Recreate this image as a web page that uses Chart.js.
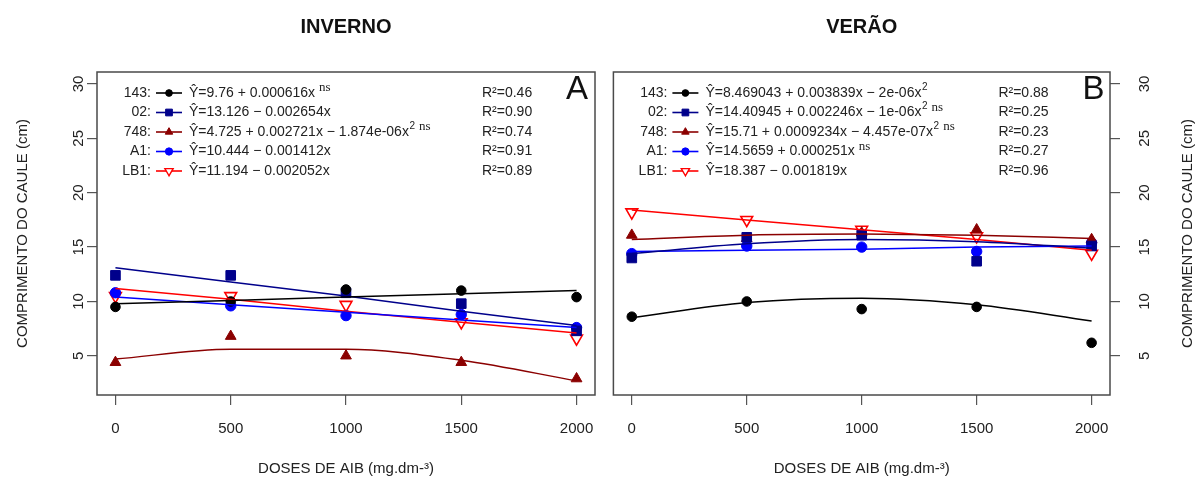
<!DOCTYPE html>
<html>
<head>
    <meta charset="utf-8">
    <script src="https://cdn.jsdelivr.net/npm/chart.js@4.4.1/dist/chart.umd.min.js"></script>
    <style>
        body { margin: 0; background: #fff; }
        #wrap { position: relative; width: 1198px; height: 481px; }
        canvas { position: absolute; top: 0; }
    </style>
</head>
<body>
<div id="wrap">
    <canvas id="inverno" width="605" height="481" style="left:0"></canvas>
    <canvas id="verao" width="593" height="481" style="left:605px"></canvas>
</div>
<script>
    // doses de AIB (x) and axis ticks
    var doses = [0, 500, 1000, 1500, 2000];
    var xTicks = [0, 500, 1000, 1500, 2000];
    var yTicks = [5, 10, 15, 20, 25, 30];
    var genotypes = ['143', '02', '748', 'A1', 'LB1'];

    // INVERNO - observed
    var inv143 = [9.5, 10.0, 11.1, 11.0, 10.4];
    var inv02 = [12.4, 12.4, 10.8, 9.8, 7.3];
    var inv748 = [4.4, 6.8, 5.0, 4.4, 2.9];
    var invA1 = [10.8, 9.6, 8.7, 8.8, 7.6];
    var invLB1 = [10.5, 10.5, 9.7, 8.1, 6.6];
    // INVERNO - fitted curves
    var invFit143 = [9.8, 10.1, 10.4, 10.7, 11.0];
    var invFit02 = [13.1, 11.8, 10.5, 9.1, 7.8];
    var invFit748 = [4.7, 5.6, 5.6, 4.6, 2.7];
    var invFitA1 = [10.4, 9.7, 9.0, 8.3, 7.6];
    var invFitLB1 = [11.2, 10.2, 9.1, 8.1, 7.1];
    var invEq = [
        ['Ŷ=9.76 + 0.000616x', '', 'ns'],
        ['Ŷ=13.126 − 0.002654x', '', ''],
        ['Ŷ=4.725 + 0.002721x − 1.874e-06x', '2', 'ns'],
        ['Ŷ=10.444 − 0.001412x', '', ''],
        ['Ŷ=11.194 − 0.002052x', '', '']
    ];
    var invR2 = ['0.46', '0.90', '0.74', '0.91', '0.89'];

    // VERAO - observed
    var ver143 = [8.6, 10.0, 9.3, 9.5, 6.2];
    var ver02 = [14.0, 15.9, 16.1, 13.7, 15.1];
    var ver748 = [16.1, 15.8, 16.3, 16.6, 15.7];
    var verA1 = [14.4, 15.1, 15.0, 14.6, 15.4];
    var verLB1 = [18.2, 17.5, 16.6, 16.0, 14.4];
    // VERAO - fitted curves
    var verFit143 = [8.5, 9.9, 10.3, 9.7, 8.2];
    var verFit02 = [14.4, 15.3, 15.7, 15.5, 14.9];
    var verFit748 = [15.7, 16.1, 16.2, 16.1, 15.8];
    var verFitA1 = [14.6, 14.7, 14.8, 15.0, 15.1];
    var verFitLB1 = [18.4, 17.5, 16.6, 15.7, 14.7];
    var verEq = [
        ['Ŷ=8.469043 + 0.003839x − 2e-06x', '2', ''],
        ['Ŷ=14.40945 + 0.002246x − 1e-06x', '2', 'ns'],
        ['Ŷ=15.71 + 0.0009234x − 4.457e-07x', '2', 'ns'],
        ['Ŷ=14.5659 + 0.000251x', '', 'ns'],
        ['Ŷ=18.387 − 0.001819x', '', '']
    ];
    var verR2 = ['0.88', '0.25', '0.23', '0.27', '0.96'];

    var colors = ['#000000', '#00008b', '#8b0000', '#0000ff', '#ff0000'];
    var styles = [
        {pointStyle: 'circle', radius: 4.8, rotation: 0, fill: true},
        {pointStyle: 'rect', radius: 6.8, rotation: 0, fill: true},
        {pointStyle: 'triangle', radius: 6.2, rotation: 0, fill: true},
        {pointStyle: 'circle', radius: 5.2, rotation: 0, fill: true},
        {pointStyle: 'triangle', radius: 6.8, rotation: 180, fill: false}
    ];
    var curved = [false, false, true, false, false];
    var curvedVer = [true, true, true, false, false];

    var FONT = '"Liberation Sans", Arial, sans-serif';
    var yTitle = 'COMPRIMENTO DO CAULE (cm)';
    var xTitle = 'DOSES DE AIB (mg.dm-³)';

    function pts(ys) {
        return doses.map(function (d, i) { return {x: d, y: ys[i]}; });
    }

    function buildDatasets(obs, fits, curve) {
        var ds = [];
        fits.forEach(function (f, i) {
            ds.push({
                data: pts(f), showLine: true, pointRadius: 0,
                borderColor: colors[i], borderWidth: 1.5,
                cubicInterpolationMode: curve[i] ? 'monotone' : 'default', tension: 0
            });
        });
        obs.forEach(function (o, i) {
            var st = styles[i];
            ds.push({
                data: pts(o), showLine: false,
                pointStyle: st.pointStyle, pointRadius: st.radius, pointRotation: st.rotation,
                pointBackgroundColor: st.fill ? colors[i] : 'rgba(255,255,255,0)',
                pointBorderColor: colors[i], pointBorderWidth: st.fill ? 1 : 1.6
            });
        });
        return ds;
    }

    var panelDecor = {
        id: 'panelDecor',
        afterDraw: function (chart, args, o) {
            var ctx = chart.ctx, a = chart.chartArea;
            ctx.save();
            ctx.strokeStyle = '#4a4a4a';
            ctx.lineWidth = 1.5;
            ctx.strokeRect(a.left, a.top, a.width, a.height);

            ctx.fillStyle = '#111';
            ctx.textAlign = 'center';
            ctx.textBaseline = 'middle';
            ctx.font = 'bold 20px ' + FONT;
            ctx.fillText(o.title, (a.left + a.right) / 2, 27);

            ctx.font = '33px ' + FONT;
            ctx.fillText(o.letter, a.left + 480, a.top + 18);

            ctx.save();
            ctx.translate(o.yTitleX, (a.top + a.bottom) / 2);
            ctx.rotate(-Math.PI / 2);
            ctx.font = '15px ' + FONT;
            ctx.fillStyle = '#222';
            ctx.fillText(yTitle, 0, 0);
            ctx.restore();

            // legend
            for (var i = 0; i < genotypes.length; i++) {
                var y = a.top + 21 + 19.5 * i;
                ctx.fillStyle = '#222';
                ctx.font = '14px ' + FONT;
                ctx.textAlign = 'right';
                ctx.fillText(genotypes[i] + ':', a.left + 54, y);

                ctx.strokeStyle = colors[i];
                ctx.lineWidth = 1.6;
                ctx.beginPath();
                ctx.moveTo(a.left + 59, y);
                ctx.lineTo(a.left + 85, y);
                ctx.stroke();
                var st = styles[i];
                ctx.fillStyle = st.fill ? colors[i] : '#fff';
                ctx.strokeStyle = colors[i];
                ctx.lineWidth = st.fill ? 1 : 1.4;
                Chart.helpers.drawPoint(ctx, {
                    pointStyle: st.pointStyle, radius: st.radius * 0.7,
                    rotation: st.rotation, borderWidth: ctx.lineWidth
                }, a.left + 72, y);

                var eq = o.eq[i];
                var x = a.left + 92;
                ctx.textAlign = 'left';
                ctx.fillStyle = '#222';
                ctx.font = '14px ' + FONT;
                ctx.fillText(eq[0], x, y);
                x += ctx.measureText(eq[0]).width;
                if (eq[1]) {
                    ctx.font = '10px ' + FONT;
                    ctx.fillText(eq[1], x + 0.5, y - 6);
                    x += ctx.measureText(eq[1]).width + 0.5;
                }
                if (eq[2]) {
                    ctx.font = '13px "Liberation Serif", "Times New Roman", serif';
                    ctx.fillText(eq[2], x + 4, y - 5);
                }
                ctx.font = '14px ' + FONT;
                ctx.fillText('R²=' + o.r2[i], a.left + 385, y);
            }
            ctx.restore();
        }
    };

    function makeScales(side) {
        var grid = {drawOnChartArea: false, drawTicks: true, tickLength: 10, color: '#555', lineWidth: 1.2};
        return {
            x: {
                type: 'linear', min: -80, max: 2080,
                afterBuildTicks: function (s) { s.ticks = xTicks.map(function (v) { return {value: v}; }); },
                afterFit: function (s) { s.height = 86; s.paddingLeft = 0; s.paddingRight = 0; },
                grid: grid, border: {display: false},
                title: {display: true, text: xTitle, font: {size: 15, family: FONT}, color: '#222', padding: {top: 0, bottom: 3}},
                ticks: {
                    font: {size: 15, family: FONT}, color: '#222', padding: 15, maxRotation: 0,
                    callback: function (v) { return String(v); }
                }
            },
            y: {
                type: 'linear', position: side, min: 1.4, max: 31.1,
                afterBuildTicks: function (s) { s.ticks = yTicks.map(function (v) { return {value: v}; }); },
                afterFit: function (s) { s.width = side === 'left' ? 97 : 88; s.paddingTop = 0; s.paddingBottom = 0; },
                grid: grid, border: {display: false},
                ticks: {
                    font: {size: 15, family: FONT}, color: '#222',
                    minRotation: 90, maxRotation: 90, crossAlign: 'center',
                    padding: side === 'left' ? 0 : 17,
                    callback: function (v) { return String(v); }
                }
            }
        };
    }

    function makeChart(id, obs, fits, curve, opts, side, pad) {
        return new Chart(document.getElementById(id).getContext('2d'), {
            type: 'scatter',
            data: {datasets: buildDatasets(obs, fits, curve)},
            options: {
                responsive: false,
                animation: false,
                layout: {padding: pad},
                scales: makeScales(side),
                plugins: {
                    legend: {display: false},
                    tooltip: {enabled: false},
                    panelDecor: opts
                }
            },
            plugins: [panelDecor]
        });
    }

    makeChart('inverno',
        [inv143, inv02, inv748, invA1, invLB1],
        [invFit143, invFit02, invFit748, invFitA1, invFitLB1],
        curved,
        {title: 'INVERNO', letter: 'A', eq: invEq, r2: invR2, yTitleX: 23},
        'left', {top: 72, right: 10, left: 0, bottom: 0});

    makeChart('verao',
        [ver143, ver02, ver748, verA1, verLB1],
        [verFit143, verFit02, verFit748, verFitA1, verFitLB1],
        curvedVer,
        {title: 'VERÃO', letter: 'B', eq: verEq, r2: verR2, yTitleX: 583},
        'right', {top: 72, right: 0, left: 7, bottom: 0});
</script>
</body>
</html>
